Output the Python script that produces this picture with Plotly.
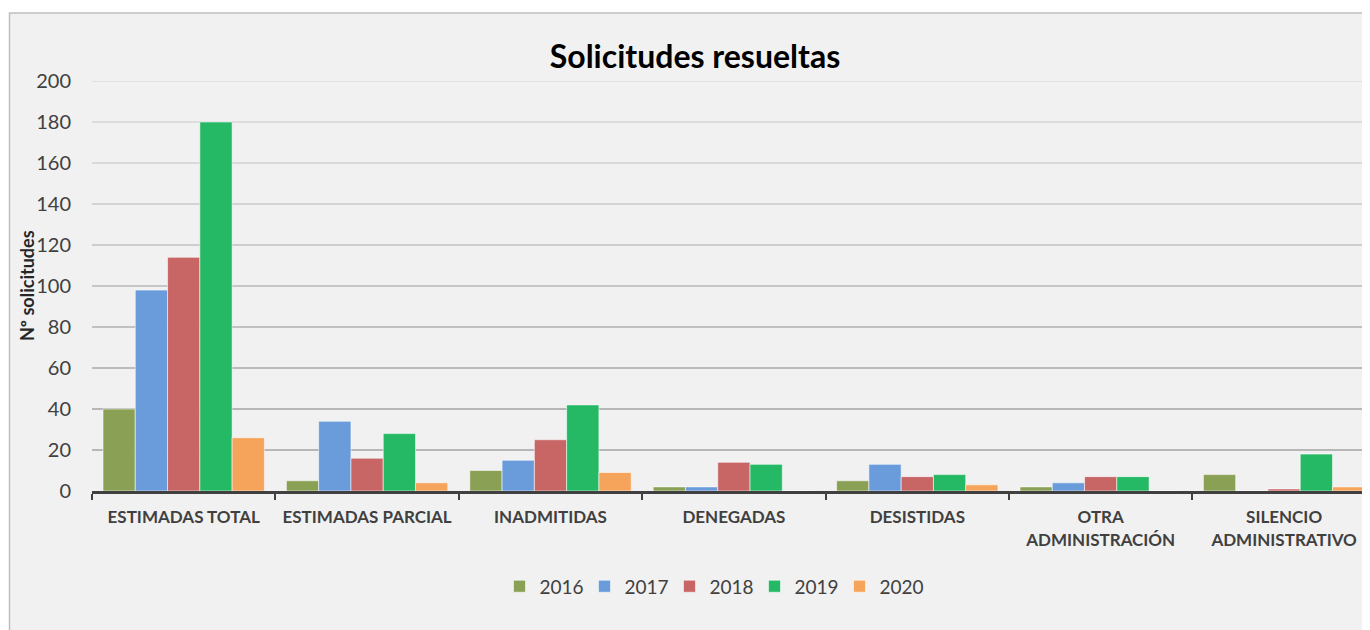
import plotly.graph_objects as go

categories = ["ESTIMADAS TOTAL", "ESTIMADAS PARCIAL", "INADMITIDAS", "DENEGADAS",
              "DESISTIDAS", "OTRA<br>ADMINISTRACIÓN", "SILENCIO<br>ADMINISTRATIVO"]
years = ["2016", "2017", "2018", "2019", "2020"]
v2016 = [40, 5, 10, 2, 5, 2, 8]
v2017 = [98, 34, 15, 2, 13, 4, 0]
v2018 = [114, 16, 25, 14, 7, 7, 1]
v2019 = [180, 28, 42, 13, 8, 7, 18]
v2020 = [26, 4, 9, 0, 3, 0, 2]
series = [v2016, v2017, v2018, v2019, v2020]
colors = ["#8AA054", "#6A9BDA", "#C86565", "#26B965", "#F6A45C"]
yticks = [0, 20, 40, 60, 80, 100, 120, 140, 160, 180, 200]
grid_colors = ["#A3A3A3", "#A3A3A3", "#A8A8A8", "#B0B0B0", "#B8B8B8",
               "#C0C0C0", "#C8C8C8", "#D0D0D0", "#D6D6D6", "#DADADA"]

FONT = "Lato"
OFF = 8  # page body margin
W, H = 1370 - OFF, 630 - OFF
ML, MR, MT = 92 - OFF, 0, 81 - OFF
MB = H - (491.5 - OFF)
PW = W - ML - MR
PH = H - MT - MB

def px_x(p):
    return (p - OFF - ML) / PW

def px_y(p):
    return (H - MB - (p - OFF)) / PH

fig = go.Figure()
for name, vals, col in zip(years, series, colors):
    fig.add_trace(go.Bar(
        x=categories, y=vals, name=name,
        marker=dict(color=col, line=dict(color="rgba(255,255,255,0.55)", width=1)),
    ))

fig.add_shape(type="rect", xref="paper", yref="paper",
              x0=px_x(9.5), x1=1.05, y0=px_y(660), y1=px_y(13),
              fillcolor="#F1F1F1", line=dict(color="#BFBFBF", width=1.5), layer="below")

for t, gc in zip(yticks[1:], grid_colors):
    fig.add_shape(type="line", xref="paper", yref="y", x0=0, x1=1, y0=t, y1=t,
                  line=dict(color=gc, width=1.5), layer="below")

fig.add_annotation(text="<b>Nº solicitudes</b>", xref="paper", yref="paper",
                   x=px_x(27), y=0.5, textangle=-90, showarrow=False,
                   font=dict(family=FONT, size=18, color="#262626"),
                   xanchor="center", yanchor="middle")

cat_w = 183.4
fig.update_layout(
    width=W, height=H,
    margin=dict(l=ML, r=MR, t=MT, b=MB),
    paper_bgcolor="white", plot_bgcolor="rgba(0,0,0,0)",
    barmode="group", bargap=0.12, bargroupgap=0,
    title=dict(text="<b>Solicitudes resueltas</b>", xref="container", yref="container",
               x=(695 - OFF) / W, y=1 - (57 - OFF) / H, xanchor="center", yanchor="middle",
               font=dict(family=FONT, size=32, color="#000000")),
    font=dict(family=FONT, color="#404040"),
    legend=dict(orientation="h", x=px_x(712), y=px_y(587), xanchor="center", yanchor="middle",
                font=dict(family=FONT, size=19, color="#404040"), bgcolor="rgba(0,0,0,0)",
                itemwidth=30, traceorder="normal", entrywidth=40, entrywidthmode="pixels"),
    xaxis=dict(range=[-0.5, -0.5 + PW / cat_w], showline=True, linecolor="#404040", linewidth=3,
               ticks="outside", tickson="boundaries", ticklen=6, tickwidth=2, tickcolor="#404040",
               ticklabelstandoff=9,
               tickfont=dict(family=FONT, size=17, color="#404040", weight="bold"),
               showgrid=False, fixedrange=True),
    yaxis=dict(range=[0, 200], tickvals=yticks, showgrid=False,
               zeroline=False, ticks="", ticklabelstandoff=20,
               tickfont=dict(family=FONT, size=20, color="#404040")),
    showlegend=True,
)

fig.write_html("out.html")
